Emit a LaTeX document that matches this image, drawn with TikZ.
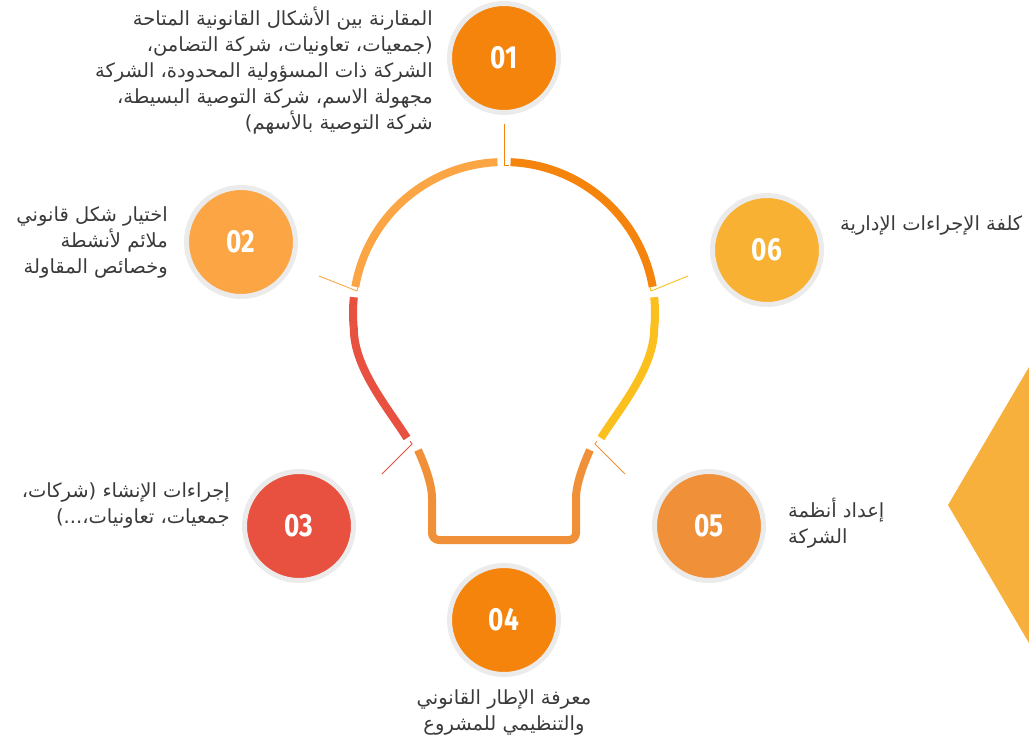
\documentclass[tikz,border=0pt]{standalone}
\usepackage{fontspec}
\usepackage{tikz}
\usetikzlibrary{positioning}
\TeXXeTstate=1
\newfontfamily\arabicfont[Script=Arabic]{DejaVu Sans}
\newfontfamily\numfont[FakeStretch=0.82]{Fira Sans}
\newcommand{\artxt}[1]{\beginR#1\endR}

\definecolor{cOne}{HTML}{F5840C}
\definecolor{cTwo}{HTML}{FBA545}
\definecolor{cThree}{HTML}{E8503F}
\definecolor{cFour}{HTML}{F5840C}
\definecolor{cFive}{HTML}{F0913A}
\definecolor{cSix}{HTML}{F8B133}
\definecolor{cSixSeg}{HTML}{FBBF1E}
\definecolor{cDiam}{HTML}{F8B03C}
\definecolor{ringgray}{HTML}{EBEBEB}
\definecolor{textgray}{HTML}{3A3A3A}

\tikzset{BulbChart/.style={
    x = 1pt, y = -1pt,
    num/.style = {circle, draw=ringgray, line width=5pt, minimum size=109pt, inner sep=0pt,
        text=white, font=\numfont\bfseries\fontsize{32}{32}\selectfont},
    note/.style = {inner sep=0pt, align=right, text=textgray,
        font=\arabicfont\fontsize{19.5}{26}\selectfont},
    seg/.style = {line width=8pt},
    tick/.style = {line width=0.9pt}
}}

\begin{document}
\begin{tikzpicture}[BulbChart]
        \useasboundingbox (0,0) rectangle (1029,737);
        \fill [cDiam] (1029,367) -- (948,505) -- (1029,643) -- cycle;

        \node [num, fill=cOne] (c01) at (504,58) {01};
        \node [num, fill=cTwo] (c02) at (241,242) {02};
        \node [num, fill=cThree] (c03) at (299,526) {03};
        \node [num, fill=cFour] (c04) at (504,620) {04};
        \node [num, fill=cFive] (c05) at (709,526) {05};
        \node [num, fill=cSix] (c06) at (767,250) {06};

        \node [note, left=14pt of c01, yshift=-13pt] (t01) {
            \artxt{المقارنة بين الأشكال القانونية المتاحة}\\
            \artxt{(جمعيات، تعاونيات، شركة التضامن،}\\
            \artxt{الشركة ذات المسؤولية المحدودة، الشركة}\\
            \artxt{مجهولة الاسم، شركة التوصية البسيطة،}\\
            \artxt{شركة التوصية بالأسهم)}
        };
        \node [note, left=16pt of c02] (t02) {
            \artxt{اختيار شكل قانوني}\\
            \artxt{ملائم لأنشطة}\\
            \artxt{وخصائص المقاولة}
        };
        \node [note, left=12pt of c03, yshift=21pt] (t03) {
            \artxt{إجراءات الإنشاء (شركات،}\\
            \artxt{جمعيات، تعاونيات،...)}
        };
        \node [note, align=center, below=12pt of c04] (t04) {
            \artxt{معرفة الإطار القانوني}\\
            \artxt{والتنظيمي للمشروع}
        };
        \node [note, align=left, right=22pt of c05, yshift=3pt] (t05) {
            \artxt{إعداد أنظمة}\\
            \artxt{الشركة}
        };
        \node [note, right=16pt of c06, yshift=25pt] (t06) {
            \artxt{كلفة الإجراءات الإدارية}
        };

        % bulb outline
        \coordinate (bulb) at (504,313);
        \draw [seg, cTwo] (bulb) ++(-92.5:151) arc [start angle=-92.5, end angle=-170, radius=151];
        \draw [seg, cOne] (bulb) ++(-87.5:151) arc [start angle=-87.5, end angle=-10, radius=151];
        \draw [seg, cThree] (bulb) ++(186:151) arc [start angle=186, end angle=174, radius=151]
            .. controls (354,368) and (388,408) .. (407,438);
        \draw [seg, cSixSeg] (bulb) ++(-6:151) arc [start angle=-6, end angle=6, radius=151]
            .. controls (654,368) and (620,408) .. (601,438);
        \draw [seg, cFive, rounded corners=7pt] (418,450) .. controls (428,472) and (432,488) .. (432,505)
            -- (432,540) -- (576,540) -- (576,505) .. controls (576,488) and (580,472) .. (590,450);

        % ticks
        \coordinate (k01a) at (504,124);
        \coordinate (k01b) at (509,165);
        \coordinate (k02a) at (319,276);
        \coordinate (k02b) at (357,291);
        \coordinate (k06a) at (688,276);
        \coordinate (k06b) at (651,291);
        \coordinate (k03a) at (382,474);
        \coordinate (k03b) at (412,444);
        \coordinate (k05a) at (625,474);
        \coordinate (k05b) at (595,444);
        \draw [tick, cOne] (k01a) |- (k01b);
        \draw [tick, cTwo] (k02a) -- (k02b) -- ++(1,-4);
        \draw [tick, cSixSeg] (k06a) -- (k06b) -- ++(-1,-4);
        \draw [tick, cThree] (k03a) -- (k03b) -- ++(-2,-3);
        \draw [tick, cFive] (k05a) -- (k05b) -- ++(2,-3);
\end{tikzpicture}
\end{document}
